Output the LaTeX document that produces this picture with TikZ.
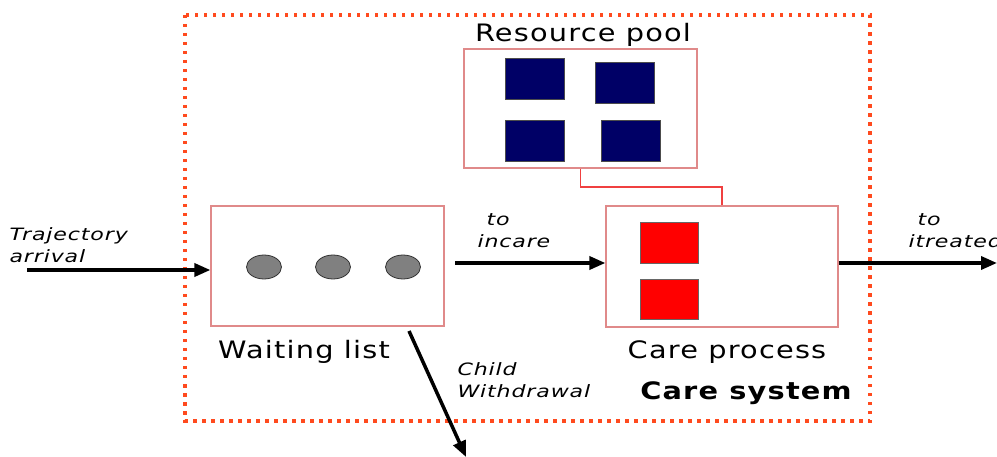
\documentclass[tikz,border=0pt]{standalone}
\usepackage{fontspec}
\setmainfont{DejaVu Sans}
\newfontfamily\capfont[FakeStretch=1.2, LetterSpace=5]{DejaVu Sans}
\newfontfamily\labfont[FakeStretch=1.3, LetterSpace=5]{DejaVu Sans}
\usetikzlibrary{arrows.meta,shapes.geometric}
\definecolor{boxred}{HTML}{E08A8A}
\definecolor{dotred}{HTML}{FF4A1E}
\definecolor{poolblue}{HTML}{000066}
\definecolor{linkred}{HTML}{F04040}
\tikzset{
  x=1pt, y=-1pt,
  panel/.style={draw=boxred, line width=1.2pt, fill=white},
  unit/.style={draw=black!70, line width=0.6pt, fill=poolblue},
  redunit/.style={draw=black!60, line width=0.6pt, fill=red},
  token/.style={draw=black!80, line width=0.8pt, fill=black!50},
  flow/.style={line width=3.5pt, -{Triangle[length=16pt,width=13pt]}},
  caption/.style={font=\capfont\fontsize{24}{26}\selectfont, anchor=center},
  flowlabel/.style={font=\labfont\fontsize{17}{22}\selectfont\itshape, align=left, anchor=west},
}
\begin{document}
\begin{tikzpicture}
\useasboundingbox (0,0) rectangle (997,457);
% system boundary
\draw[dotred, line width=3.2pt, dash pattern=on 3.5pt off 5.5pt] (185,15) rectangle (870,421);
% resource pool
\node[panel, minimum width=233pt, minimum height=119pt, inner sep=0pt] (pool) at (580.5,108.5) {};
\node[caption] (poollbl) at (583,35) {Resource pool};
\node[unit, minimum width=59pt, minimum height=41pt, inner sep=0pt] (r1) at (534.5,78.5) {};
\node[unit, minimum width=59pt, minimum height=41pt, inner sep=0pt] (r2) at (624.5,82.5) {};
\node[unit, minimum width=59pt, minimum height=41pt, inner sep=0pt] (r3) at (534.5,140.5) {};
\node[unit, minimum width=59pt, minimum height=41pt, inner sep=0pt] (r4) at (630.5,140.5) {};
% waiting list
\node[panel, minimum width=233pt, minimum height=120pt, inner sep=0pt] (wait) at (327.5,266) {};
\node[token, ellipse, minimum width=35pt, minimum height=24pt, inner sep=0pt] (t1) at (264,267) {};
\node[token, ellipse, minimum width=35pt, minimum height=24pt, inner sep=0pt] (t2) at (333,267) {};
\node[token, ellipse, minimum width=35pt, minimum height=24pt, inner sep=0pt] (t3) at (403,267) {};
\node[caption] (waitlbl) at (304,352) {Waiting list};
% care process
\node[panel, minimum width=232pt, minimum height=121pt, inner sep=0pt] (care) at (722,266.5) {};
\node[redunit, minimum width=58pt, minimum height=41pt, inner sep=0pt] (c1) at (669,242.5) {};
\node[redunit, minimum width=58pt, minimum height=40pt, inner sep=0pt] (c2) at (669,299) {};
\node[caption] (carelbl) at (727,352) {Care process};
\node[caption, font=\capfont\fontsize{24}{26}\selectfont\bfseries] (syslbl) at (746,393) {Care system};
% link between pool and care process
\draw[linkred, line width=1.2pt] (pool.south) |- (722,187) -- (care.north);
% flows
\coordinate (src) at (27,270);
\coordinate (out) at (997,263);
\coordinate (wd) at (466,457);
\coordinate (wdstart) at (409,331);
\coordinate (mid) at (455,263);
\draw[flow] (src) -- (wait.west |- src);
\draw[flow] (mid) -- (care.west |- mid);
\draw[flow] (care.east |- out) -- (out);
\draw[flow] (wdstart) -- (wd);
% flow labels
\node[flowlabel] (arrlbl) at (6,245) {Trajectory\\[0pt]arrival};
\node[flowlabel] (inclbl) at (474,231) {\hspace*{9pt}to\\[0pt]incare};
\node[flowlabel] (trtlbl) at (905,231) {\hspace*{9pt}to\\[0pt]itreated};
\node[flowlabel] (wdlbl) at (454,380) {Child\\[0pt]Withdrawal};
\end{tikzpicture}
\end{document}
